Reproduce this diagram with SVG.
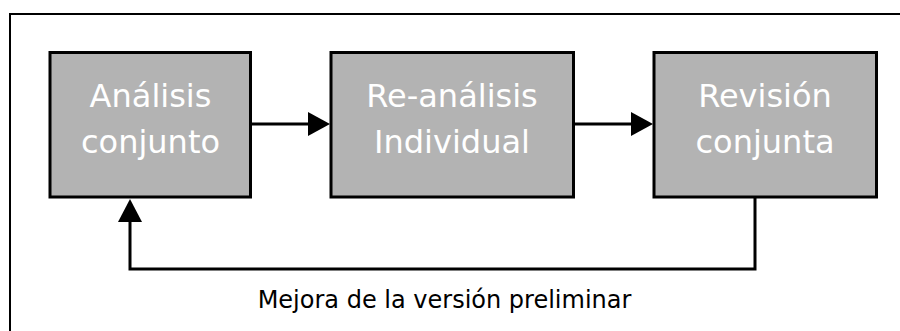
<svg xmlns="http://www.w3.org/2000/svg" width="900" height="331" viewBox="0 0 900 331">
<style>
.box{fill:#b3b3b3;stroke:#000;stroke-width:3}
.lbl{font-family:"DejaVu Sans",sans-serif;font-size:32px;fill:#fff;text-anchor:middle}
.cap{font-family:"DejaVu Sans",sans-serif;font-size:24px;fill:#000;text-anchor:middle}
.ln{fill:none;stroke:#000;stroke-width:3}
</style>
<rect width="900" height="331" fill="#fff"/>
<path d="M10,331 V14 H900" fill="none" stroke="#000" stroke-width="2"/>
<g id="n1">
<rect class="box" x="50" y="52.5" width="200.5" height="144.5"/>
<text class="lbl" x="150.5" y="107">Análisis</text>
<text class="lbl" x="150.5" y="153">conjunto</text>
</g>
<g id="n2">
<rect class="box" x="331" y="52.5" width="242.5" height="144.5"/>
<text class="lbl" x="452" y="107">Re-análisis</text>
<text class="lbl" x="452" y="153">Individual</text>
</g>
<g id="n3">
<rect class="box" x="654" y="52.5" width="222.5" height="144.5"/>
<text class="lbl" x="765" y="107">Revisión</text>
<text class="lbl" x="765" y="153">conjunta</text>
</g>
<g id="connectors">
<path class="ln" d="M252,124 H312"/>
<polygon points="308,112 330,124 308,136" fill="#000"/>
<path class="ln" d="M575,124 H635"/>
<polygon points="631,112 653,124 631,136" fill="#000"/>
<path class="ln" d="M755,198 V269 H130 V218"/>
<polygon points="118,222 130,199 142,222" fill="#000"/>
<text class="cap" x="444.5" y="308">Mejora de la versión preliminar</text>
</g>
</svg>
